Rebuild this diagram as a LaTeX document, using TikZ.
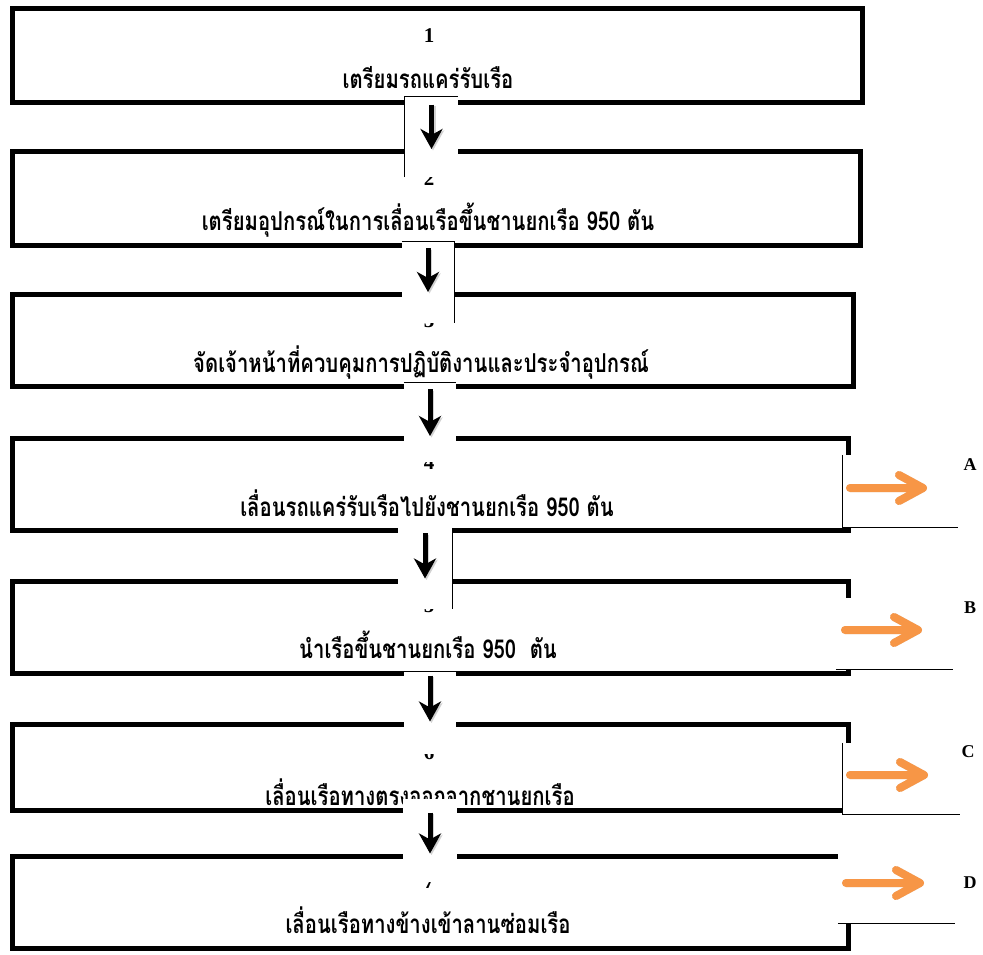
\documentclass[tikz,border=0pt]{standalone}
\usepackage{fontspec}
\setmainfont{Liberation Serif}
\newfontfamily\thaifont[Script=Thai,FakeStretch=0.78]{Loma}
\usetikzlibrary{arrows.meta,calc}
\definecolor{orangeA}{HTML}{F79646}
\begin{document}
\begin{tikzpicture}[x=1pt,y=-1pt,
  stepbox/.style={draw=black,line width=5pt,inner sep=0pt,rectangle},
  cover/.style={fill=white,draw=none,inner sep=0pt,rectangle},
  thinline/.style={line width=1pt,black},
  num/.style={font=\fontsize{21}{21}\selectfont\bfseries,inner sep=0pt,anchor=base},
  lbl/.style={font=\fontsize{18}{18}\selectfont\bfseries,inner sep=0pt},
  thai/.style={font=\thaifont\bfseries\fontsize{26}{26}\selectfont,inner sep=0pt,anchor=base},
  downarr/.style={line width=5pt,-{Stealth[width=22pt,length=20pt,inset=6pt]}},
  shadowarr/.style={line width=5pt,black!35,opacity=0.5,-{Stealth[width=22pt,length=20pt,inset=6pt]}},
  orangearr/.style={line width=8pt,draw=orangeA,line cap=round,line join=round},
  orangeshadow/.style={line width=8pt,draw=black!30,opacity=0.35,line cap=round,line join=round},
]
\useasboundingbox (0,0) rectangle (983,954);
\fill[white] (0,0) rectangle (983,954);

% main boxes
\node[stepbox,minimum width=850,minimum height=94] (b1) at (437,55) {};
\node[stepbox,minimum width=848,minimum height=94] (b2) at (436,198.5) {};
\node[stepbox,minimum width=841,minimum height=92] (b3) at (432.5,340.5) {};
\node[stepbox,minimum width=836,minimum height=92] (b4) at (430,484.5) {};
\node[stepbox,minimum width=836,minimum height=92] (b5) at (430,627) {};
\node[stepbox,minimum width=836,minimum height=86] (b6) at (430,767) {};
\node[stepbox,minimum width=836,minimum height=92] (b7) at (430,902) {};

% numbers
\node[num] (n1) at (429,42) {1};
\node[num] (n2) at (429,185) {2};
\node[num] (n3) at (429,327) {3};
\node[num] (n4) at (429,469) {4};
\node[num] (n5) at (429,612) {5};
\node[num] (n6) at (429,759) {6};
\node[num] (n7) at (429,888) {7};

% Thai texts
\node[thai] (t1) at (428,88) {เตรียมรถแคร่รับเรือ};
\node[thai] (t2) at (428,230) {เตรียมอุปกรณ์ในการเลื่อนเรือขึ้นชานยกเรือ 950 ตัน};
\node[thai] (t3) at (421,372) {จัดเจ้าหน้าที่ควบคุมการปฏิบัติงานและประจำอุปกรณ์};
\node[thai] (t4) at (427,516) {เลื่อนรถแคร่รับเรือไปยังชานยกเรือ 950 ตัน};
\node[thai] (t5) at (428,658) {นำเรือขึ้นชานยกเรือ 950\ \ ตัน};
\node[thai] (t6) at (420,805) {เลื่อนเรือทางตรงออกจากชานยกเรือ};
\node[thai] (t7) at (428,933) {เลื่อนเรือทางข้างเข้าลานซ่อมเรือ};

% white text boxes of the down arrows
\node[cover,minimum width=53,minimum height=80] (w1) at (431.5,137) {};
\draw[thinline] (w1.south west) -- (w1.north west) -- (w1.north east);
\node[cover,minimum width=52,minimum height=81] (w2) at (428,282.5) {};
\draw[thinline] (w2.north west) -- (w2.north east) -- (w2.south east);
\node[cover,minimum width=52,minimum height=79] (w3) at (430,422.5) {};
\draw[thinline] (w3.north west) -- (w3.north east);
\node[cover,minimum width=54,minimum height=81] (w4) at (425,568.5) {};
\draw[thinline] (w4.north east) -- (w4.south east);
\node[cover,minimum width=52,minimum height=82] (w5) at (430,713) {};
\draw[thinline] (w5.north west) -- (w5.north east);
\node[cover,minimum width=54,minimum height=83] (w6) at (430,840.5) {};

% down arrows
\foreach \i/\j in {1/2,2/3,3/4,4/5,5/6,6/7}{
  \draw[shadowarr] ($(b\i.south -| w\i)+(1.5,1.5)$) -- ($(b\j.north -| w\i)+(1.5,1.5)$);
  \draw[downarr] (b\i.south -| w\i) -- (b\j.north -| w\i);
}

% right white boxes
\node[cover,minimum width=115,minimum height=72] (rA) at (900.5,491) {};
\draw[thinline] (rA.north west) -- (rA.south west) -- (rA.south east);
\node[cover,minimum width=117,minimum height=71] (rB) at (894.5,633.5) {};
\draw[thinline] (rB.south west) -- (rB.south east);
\node[cover,minimum width=117,minimum height=71] (rC) at (901.5,778.5) {};
\draw[thinline] (rC.north west) -- (rC.south west) -- (rC.south east);
\node[cover,minimum width=117,minimum height=73] (rD) at (896.5,886.5) {};
\draw[thinline] (rD.south west) -- (rD.south east);

% orange arrows
\coordinate (oaS) at (850,488);  \coordinate (oaE) at (923,488);
\coordinate (obS) at (845,630);  \coordinate (obE) at (918,630);
\coordinate (ocS) at (850,775);  \coordinate (ocE) at (924,775);
\coordinate (odS) at (846,883);  \coordinate (odE) at (920,883);
\foreach \p in {a,b,c,d}{
  \draw[orangeshadow,shift={(2,3)}] (o\p S) -- (o\p E) (o\p E) ++(-24,-13) -- (o\p E) -- ++(-24,13);
  \draw[orangearr] (o\p S) -- (o\p E) (o\p E) ++(-24,-13) -- (o\p E) -- ++(-24,13);
}

% letters
\node[lbl] (la) at (970,465) {A};
\node[lbl] (lb) at (970,608) {B};
\node[lbl] (lc) at (968,752) {C};
\node[lbl] (ld) at (970,883) {D};
\end{tikzpicture}
\end{document}
